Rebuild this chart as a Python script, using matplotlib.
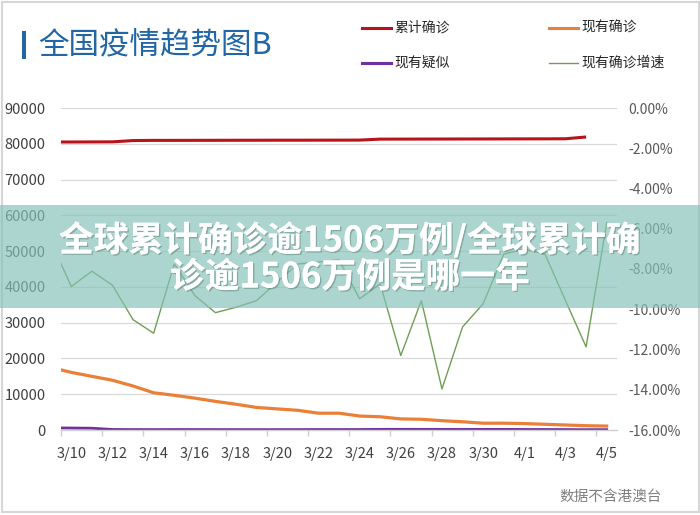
import numpy as np
import matplotlib
matplotlib.use("Agg")
import matplotlib.pyplot as plt
from matplotlib.lines import Line2D
from matplotlib.patches import Rectangle
import matplotlib.patheffects as pe

plt.rcParams['font.family'] = ['Noto Sans CJK SC', 'DejaVu Sans']

# ---- data (3/9 .. 4/5; 3/9 lies just outside the visible range) ----
dates = ['3/9', '3/10', '3/11', '3/12', '3/13', '3/14', '3/15', '3/16', '3/17', '3/18',
         '3/19', '3/20', '3/21', '3/22', '3/23', '3/24', '3/25', '3/26', '3/27', '3/28',
         '3/29', '3/30', '3/31', '4/1', '4/2', '4/3', '4/4', '4/5']
cumulative = [80500, 80500, 80520, 80540, 80900, 80950, 80950, 80960, 80970, 80980,
              80990, 81000, 81000, 81010, 81020, 81030, 81300, 81310, 81320, 81330,
              81340, 81350, 81360, 81370, 81380, 81400, 81900, np.nan]
current = [17500, 16100, 15000, 13900, 12300, 10400, 9700, 8900, 8000, 7200,
           6300, 5900, 5500, 4700, 4700, 3900, 3700, 3100, 3000, 2600,
           2300, 1900, 1900, 1800, 1600, 1400, 1200, 1100]
suspected = [600, 550, 500, 150, 120, 115, 130, 125, 120, 105,
             105, 105, 115, 135, 130, 135, 180, 185, 175, 170,
             160, 180, 170, 150, 135, 125, 90, 95]
growth = [-6.6, -8.87, -8.11, -8.81, -10.52, -11.19, -7.75, -9.32, -10.17, -9.9,
          -9.57, -8.64, -7.75, -7.65, -7.54, -9.48, -8.74, -12.30, -9.57, -13.96,
          -10.88, -9.73, -7.26, -7.01, -7.26, -9.57, -11.87, -5.7]
left_ticks = list(range(0, 90001, 10000))
right_ticks = list(range(-16, 1, 2))

series_names = ['累计确诊', '现有确诊', '现有疑似', '现有确诊增速']
colors = ['#b8121a', '#ea8038', '#7030a0', '#6f9e55']

W, H = 700, 515
fig = plt.figure(figsize=(W / 100, H / 100), dpi=100)
fig.patch.set_facecolor('white')

def fx(px):
    return px / W

def fy(py):
    return 1 - py / H

ax = fig.add_axes([fx(61), fy(430), fx(617) - fx(61), fy(108) - fy(430)])
x = np.arange(len(dates)) - 1  # 3/10 -> 0

ax.set_xlim(-0.5, 26.5)
ax.set_ylim(0, 90000)
ax.set_yticks(left_ticks)
ax.set_yticklabels([str(v) for v in left_ticks])
ax.grid(axis='y', color='#d9d9d9', linewidth=0.9)
ax.set_axisbelow(True)
for s in ['top', 'left', 'right']:
    ax.spines[s].set_visible(False)
ax.spines['bottom'].set_color('#d0d0d0')
ax.spines['bottom'].set_linewidth(1.0)
ax.tick_params(axis='y', length=0, pad=11, labelsize=10.5, labelcolor='#404040')

# x ticks: marks at category boundaries every two days, labels at category centres
ax.set_xticks(np.arange(-0.5, 26, 2))
ax.set_xticklabels([])
ax.set_xticks(np.arange(0, 27, 2), minor=True)
ax.set_xticklabels(dates[1::2], minor=True)
ax.tick_params(axis='x', which='major', length=4, color='#d0d0d0', width=1)
ax.tick_params(axis='x', which='minor', length=0, pad=12, labelsize=10.5, labelcolor='#404040')

ax.plot(x, cumulative, color=colors[0], lw=2.2, solid_capstyle='butt', clip_on=True)
ax.plot(x, current, color=colors[1], lw=2.3, clip_on=True)
ax.plot(x, suspected, color=colors[2], lw=2.0, clip_on=True)

ax2 = ax.twinx()
ax2.set_ylim(-16, 0)
ax2.set_yticks(right_ticks)
ax2.set_yticklabels([f'{v:.2f}%' for v in right_ticks])
ax2.tick_params(axis='y', length=0, pad=8, labelsize=10, labelcolor='#595959')
for s in ['top', 'left', 'right', 'bottom']:
    ax2.spines[s].set_visible(False)
ax2.plot(x, growth, color=colors[3], lw=1.0)

# title
fig.add_artist(Rectangle((fx(22), fy(59)), fx(4), fy(31) - fy(59), transform=fig.transFigure,
                         facecolor='#2166a5', edgecolor='none'))
fig.text(fx(38), fy(45), '全国疫情趋势图B', fontsize=22, color='#2166a5', va='center', ha='left')

# legend (manual)
leg = [(362, 28, 0), (362, 63, 2), (549, 28, 1), (549, 63, 3)]
for lx, ly, i in leg:
    fig.add_artist(Line2D([fx(lx), fx(lx + 29)], [fy(ly), fy(ly)], transform=fig.transFigure,
                          color=colors[i], lw=2.2 if i < 3 else 1.0))
    fig.text(fx(lx + 32), fy(ly), series_names[i], fontsize=10, color='#262626', va='center', ha='left')

# source note
fig.text(fx(662), fy(497), '数据不含港澳台', fontsize=10.5, color='#7f7f7f', va='center', ha='right')

# card border
fig.add_artist(Rectangle((fx(1.5), fy(512)), fx(697), fy(1.5) - fy(512), transform=fig.transFigure,
                         facecolor='none', edgecolor='#d6d6d6', lw=1.5))

# overlay banner
fig.add_artist(Rectangle((0, fy(308)), 1, fy(205) - fy(308), transform=fig.transFigure,
                         facecolor='#84c2b7', edgecolor='none', alpha=0.68, zorder=10))
shadow = [pe.withSimplePatchShadow(offset=(1, -1), shadow_rgbFace='#3a5a55', alpha=0.35), pe.Normal()]
fig.text(0.5, fy(240), '全球累计确诊逾1506万例/全球累计确', fontsize=25, fontweight='bold',
         color='white', ha='center', va='center', zorder=11, path_effects=shadow)
fig.text(0.5, fy(277), '诊逾1506万例是哪一年', fontsize=25, fontweight='bold',
         color='white', ha='center', va='center', zorder=11, path_effects=shadow)

fig.savefig('out.png', dpi=100)
